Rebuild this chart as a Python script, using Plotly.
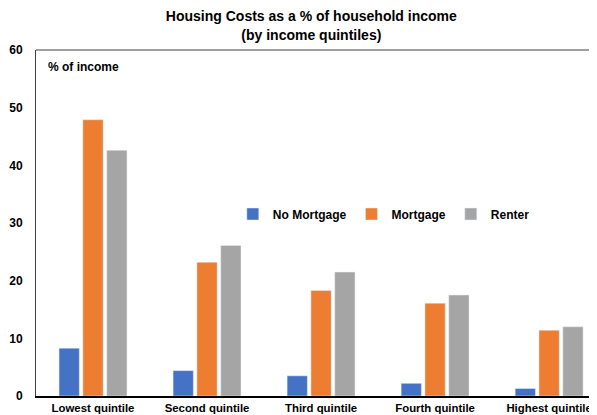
import plotly.graph_objects as go

categories = ["Lowest quintile", "Second quintile", "Third quintile", "Fourth quintile", "Highest quintile"]
no_mortgage = [8.3, 4.4, 3.5, 2.2, 1.3]
mortgage = [47.9, 23.2, 18.3, 16.1, 11.4]
renter = [42.6, 26.1, 21.5, 17.5, 12.0]

FONT = "Arial, Liberation Sans, sans-serif"

fig = go.Figure()
fig.add_bar(x=categories, y=no_mortgage, name="No Mortgage", marker_color="#4472C4")
fig.add_bar(x=categories, y=mortgage, name="Mortgage", marker_color="#ED7D31")
fig.add_bar(x=categories, y=renter, name="Renter", marker_color="#A5A5A5")

# page body has an 8px margin, so the figure is 8px smaller than the window
fig.update_layout(
    width=589, height=407,
    margin=dict(l=28, r=0, t=42, b=19),
    paper_bgcolor="white", plot_bgcolor="white",
    barmode="group", bargap=0.373, bargroupgap=0.15,
    title=dict(text="Housing Costs as a % of household income<br>(by income quintiles)",
               x=0.515, xanchor="center", xref="container", y=0.967, yref="container", yanchor="top",
               font=dict(family=FONT, size=14, color="black", weight="bold")),
    font=dict(family=FONT, size=12, color="black", weight="bold"),
    legend=dict(orientation="h", x=0.62, y=0.526, xanchor="center", yanchor="middle",
                font=dict(family=FONT, size=12, color="black", weight="bold"),
                bgcolor="rgba(0,0,0,0)", itemwidth=30, traceorder="normal"),
    xaxis=dict(range=[-0.5, 4.42], showline=True, linecolor="black", linewidth=2,
               ticks="", showgrid=False, tickfont=dict(family=FONT, size=11.4, weight="bold"),
               automargin=False),
    yaxis=dict(range=[0, 60], dtick=10, showline=True, linecolor="#404040", linewidth=1,
               mirror=True, showgrid=False, zeroline=False, ticks="",
               ticklabelstandoff=10, tickfont=dict(family=FONT, size=12, weight="bold"),
               automargin=False),
    shapes=[dict(type="line", xref="paper", yref="paper", x0=0, x1=1, y0=1, y1=1,
                 line=dict(color="#404040", width=1))],
    annotations=[dict(text="% of income", xref="paper", yref="paper", x=0.018, y=0.951,
                      xanchor="left", yanchor="middle", showarrow=False,
                      font=dict(family=FONT, size=12, color="black", weight="bold"))],
)

fig.write_html("out.html")
